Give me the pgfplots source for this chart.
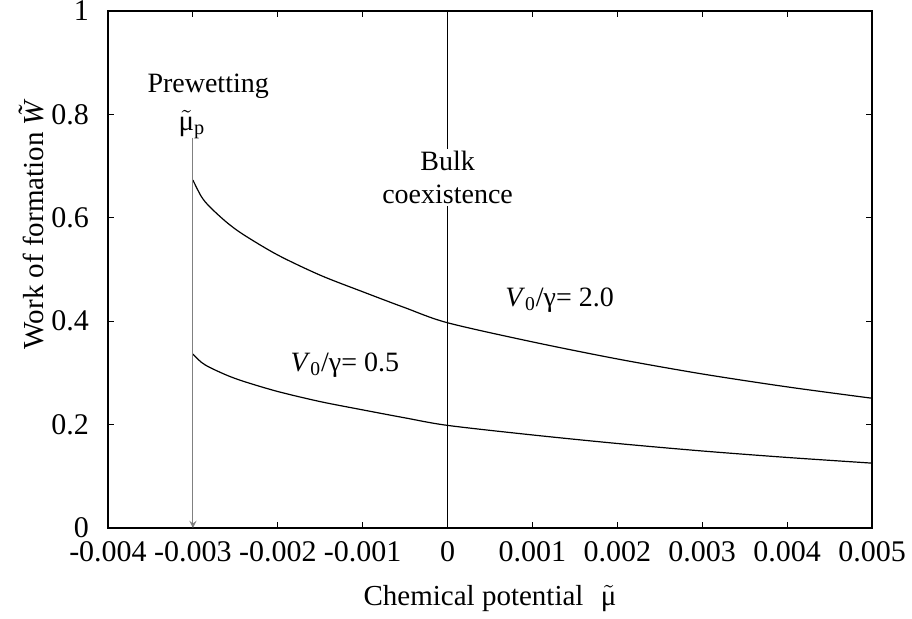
\documentclass[border=0pt]{standalone}
\usepackage{fontspec}
\setmainfont{Liberation Serif}
\usepackage{pgfplots}
\pgfplotsset{compat=1.18}
\newcommand{\mut}{$\tilde{\mbox{μ}}$}
\begin{document}
\begin{tikzpicture}
\begin{axis}[
  scale only axis, width=382pt, height=258.5pt,
  xmin=-0.004, xmax=0.005, ymin=0, ymax=1,
  xtick={-0.004,-0.003,-0.002,-0.001,0,0.001,0.002,0.003,0.004,0.005},
  xticklabels={-0.004,-0.003,-0.002,-0.001,0,0.001,0.002,0.003,0.004,0.005},
  ytick={0,0.2,0.4,0.6,0.8,1},
  yticklabels={0,0.2,0.4,0.6,0.8,1},
  tick align=inside, xtick pos=both, ytick pos=both,
  major tick length=3pt,
  tick style={black, line width=0.6pt},
  axis line style={line width=0.7pt},
  scaled x ticks=false,
  ticklabel style={font=\fontsize{15}{17}\selectfont},
  yticklabel style={xshift=-6pt, inner ysep=0pt},
  xticklabel style={yshift=-3pt, inner xsep=0pt},
  xlabel={Chemical potential\hspace{0.6em}\mut},
  ylabel={Work of formation \~{\itshape W}},
  label style={font=\fontsize{14.5}{16}\selectfont},
  xlabel style={yshift=-5pt},
  ylabel style={at={(ticklabel cs:0.586,-3pt)}},
  clip=false,
]
\draw[line width=0.6pt] (axis cs:0,0) -- (axis cs:0,1);
\addplot[black, line width=0.6pt, smooth] coordinates {
(-0.003,0.673) (-0.0029,0.641) (-0.0028,0.621) (-0.0026,0.591) (-0.0024,0.567)
(-0.002,0.528) (-0.0015,0.489) (-0.001,0.457) (-0.0005,0.426) (0,0.397)
(0.001,0.360) (0.002,0.327) (0.003,0.298) (0.004,0.273) (0.005,0.251)};
\addplot[black, line width=0.6pt, smooth] coordinates {
(-0.003,0.3365) (-0.0029,0.3205) (-0.0028,0.3105) (-0.0026,0.2955) (-0.0024,0.2835)
(-0.002,0.264) (-0.0015,0.2445) (-0.001,0.2285) (-0.0005,0.213) (0,0.1985)
(0.001,0.180) (0.002,0.1635) (0.003,0.149) (0.004,0.1365) (0.005,0.1255)};
\draw[gray, line width=0.6pt, -stealth] (axis cs:-0.003,0.755) -- (axis cs:-0.003,0);
\node[fill=white, inner sep=1pt, align=center, font=\fontsize{14}{16.5}\selectfont] at (axis cs:0,0.678) {Bulk\\coexistence};
\node[font=\fontsize{14}{16}\selectfont] at (axis cs:-0.00282,0.855) {Prewetting};
\node[font=\fontsize{14.5}{16}\selectfont] at (axis cs:-0.00301,0.78) {\mut\textsubscript{p}};
\node[font=\fontsize{14}{16}\selectfont] at (axis cs:0.00132,0.441) {\textit{V}\textsubscript{0}/γ= 2.0};
\node[font=\fontsize{14}{16}\selectfont] at (axis cs:-0.00121,0.315) {\textit{V}\textsubscript{0}/γ= 0.5};
\end{axis}
\path ([shift={(-54pt,-44pt)}]current axis.south west) rectangle ([shift={(20pt,5.5pt)}]current axis.north east);
\end{tikzpicture}
\end{document}
